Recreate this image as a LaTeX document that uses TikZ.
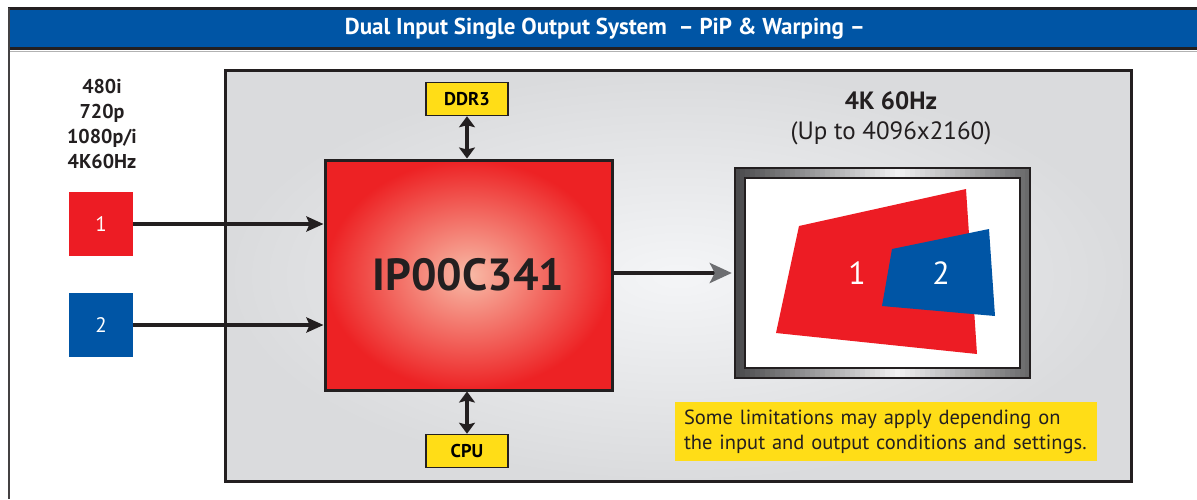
\documentclass[tikz,border=0pt]{standalone}
\usepackage{fontspec}
\setmainfont{PT Sans}
\usetikzlibrary{arrows.meta,positioning}
\definecolor{hdrblue}{HTML}{0055A5}
\definecolor{srcred}{HTML}{ED1C24}
\definecolor{srcblue}{HTML}{0055A5}
\definecolor{tagyellow}{HTML}{FFDD17}
\definecolor{inkdark}{HTML}{231F20}
\definecolor{tipgray}{HTML}{6D6E71}
\definecolor{boardlight}{HTML}{F4F5F7}
\definecolor{boardgray}{HTML}{DADBDD}
\definecolor{chiplight}{HTML}{F8BAA6}
\definecolor{chipred}{HTML}{ED2224}
\definecolor{bezeldark}{HTML}{4A4A4C}
\definecolor{bezellight}{HTML}{F2F2F3}
\tikzset{
	srcsquare/.style={minimum size=64pt, inner sep=0pt, text=white, font=\fontsize{21}{24}\selectfont},
	memtag/.style={draw=inkdark, line width=1.5pt, fill=tagyellow, minimum width=82pt, minimum height=33pt, inner sep=0pt, font=\fontsize{18.5}{20}\selectfont\bfseries},
	feed/.style={line width=4pt, draw=inkdark, -{Stealth[length=17pt, width=15pt, inset=3pt]}},
	bus/.style={line width=4pt, draw=inkdark, {Stealth[length=11pt, width=16pt, inset=2pt]}-{Stealth[length=11pt, width=16pt, inset=2pt]}},
	quadlabel/.style={text=white, font=\fontsize{32}{36}\selectfont}
}

\begin{document}
\begin{tikzpicture}[x=1pt, y=-1pt]

			\useasboundingbox (0,0) rectangle (1197,499);

			% Draw the header bar
			\fill[hdrblue] (9,9) rectangle (1197,48);
			\draw[inkdark, line width=2.5pt] (8,8.5) -- (1197,8.5);
			\draw[inkdark, line width=2.5pt] (8,48.5) -- (1197,48.5);
			\draw[gray!60, line width=1pt] (10,51) -- (1197,51);
			\draw[inkdark!85, line width=2.5pt] (9,8) -- (9,499);
			\node[text=white, font=\fontsize{23}{24}\selectfont\bfseries] (title) at (605,29) {Dual Input Single Output System \ – PiP \& Warping –};

			% Draw the board
			\node[draw=inkdark, line width=3pt, inner color=boardlight, outer color=boardgray, minimum width=906pt, minimum height=411pt] (board) at (678.5,276) {};

			% Draw the input formats
			\node[align=center, text=inkdark, font=\fontsize{20}{25}\selectfont\bfseries] (formats) at (102,124) {480i\\720p\\1080p/i\\4K60Hz};

			% Draw the sources
			\node[srcsquare, fill=srcred] (src1) at (101,224) {1};
			\node[srcsquare, fill=srcblue] (src2) at (101,325) {2};

			% Draw the processor
			\node[draw=inkdark, line width=3pt, inner color=chiplight, outer color=chipred, minimum width=287pt, minimum height=230pt, text=inkdark, font=\fontsize{45}{50}\selectfont\bfseries] (chip) at (468.5,275) {IP00C341};

			% Draw the memory and host
			\node[memtag] (ddr) at (467,99) {DDR3};
			\node[memtag] (cpu) at (467,451) {CPU};

			% Draw the monitor
			\node[minimum width=295pt, minimum height=210pt] (monitor) at (882.5,273) {};
			\foreach \i [evaluate=\i as \p using {100-abs(\i-32)*100/32}] in {0,...,58}
				\fill[bezellight!\p!bezeldark] (735+\i*5,168) rectangle ++(5.2,210);
			\draw[inkdark, line width=1.5pt] (monitor.north west) rectangle (monitor.south east);
			\node[draw=inkdark, line width=1.5pt, fill=white, minimum width=275pt, minimum height=190pt] (screen) at (monitor.center) {};
			\fill[srcred] (799,226) -- (966,189) -- (977,354) -- (776,333) -- cycle;
			\fill[srcblue] (892,249) -- (989,229) -- (995,316) -- (882,306) -- cycle;
			\node[quadlabel] (win1) at (857,273) {1};
			\node[quadlabel] (win2) at (941,273) {2};

			% Draw the output format
			\node[align=center, text=inkdark, font=\fontsize{25}{30}\selectfont] (outfmt) at (891,118) {\textbf{4K 60Hz}\\(Up to 4096x2160)};

			% Draw the note
			\node[fill=tagyellow, text width=404pt, inner xsep=9pt, minimum height=59pt, align=left, text=inkdark, font=\fontsize{20.5}{25}\selectfont] (note) at (886,431.5) {Some limitations may apply depending on\\the input and output conditions and settings.};

			% Draw the connections
			\draw[feed] (src1.east) -- (chip.west |- src1.east);
			\draw[feed] (src2.east) -- (chip.west |- src2.east);
			\draw[line width=4pt, draw=inkdark, -{Stealth[length=22pt, width=20pt, inset=5pt, color=tipgray]}, shorten >=3pt] (chip.east |- win1) -- (monitor.west |- win1);
			\draw[bus] (ddr.south) -- (chip.north -| ddr.south);
			\draw[bus] (chip.south -| cpu.north) -- (cpu.north);

		\end{tikzpicture}
\end{document}
